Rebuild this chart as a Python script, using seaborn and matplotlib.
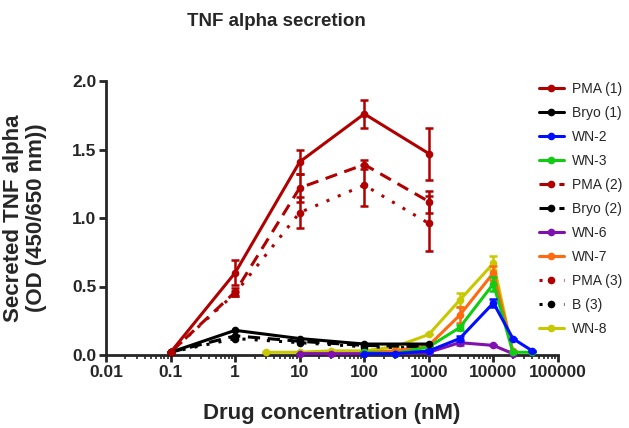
import numpy as np
import pandas as pd
import matplotlib
matplotlib.use('Agg')
import matplotlib.pyplot as plt
from matplotlib.ticker import LogLocator, NullFormatter
import seaborn as sns

sns.set_style('ticks')
plt.rcParams['font.family'] = ['Liberation Sans', 'DejaVu Sans']

# PMA / Bryo dose series
x_low = [0.1, 1, 10, 100, 1000]
pma1 = [0.02, 0.60, 1.41, 1.76, 1.47]
pma1_err = [0, 0.09, 0.09, 0.10, 0.19]
pma2 = [0.02, 0.46, 1.22, 1.39, 1.12]
pma2_err = [0, 0.03, 0.10, 0.03, 0.08]
pma3 = [0.02, 0.45, 1.04, 1.24, 0.96]
pma3_err = [0, 0.02, 0.11, 0.15, 0.20]
bryo1 = [0.02, 0.18, 0.12, 0.08, 0.08]
bryo2 = [0.02, 0.14, 0.10, 0.07, 0.06]
b3 = [0.02, 0.12, 0.09, 0.06, 0.05]

# WN compounds
x_wn2 = [100, 300, 1000, 3000, 10000, 20000, 40000]
wn2 = [0.01, 0.01, 0.03, 0.12, 0.38, 0.12, 0.03]
wn2_err = [0, 0, 0, 0.02, 0.03, 0, 0]
x_wn3 = [100, 300, 1000, 3000, 10000, 20000, 40000]
wn3 = [0.02, 0.01, 0.06, 0.20, 0.52, 0.02, 0.02]
wn3_err = [0, 0, 0, 0.02, 0.05, 0, 0]
x_wn6 = [10, 30, 100, 300, 1000, 3000, 10000, 20000]
wn6 = [0.01, 0.01, 0.01, 0.01, 0.02, 0.09, 0.07, 0.01]
wn6_err = [0, 0, 0, 0, 0, 0.02, 0, 0]
x_wn7 = [100, 300, 1000, 3000, 10000, 20000]
wn7 = [0.02, 0.03, 0.07, 0.29, 0.60, 0.03]
wn7_err = [0, 0, 0, 0.06, 0.05, 0]
x_wn8 = [3, 10, 30, 100, 300, 1000, 3000, 10000, 20000]
wn8 = [0.02, 0.02, 0.03, 0.03, 0.06, 0.15, 0.40, 0.67, 0.02]
wn8_err = [0, 0, 0, 0, 0, 0, 0.05, 0.05, 0]

labels = ['PMA (1)', 'Bryo (1)', 'WN-2', 'WN-3', 'PMA (2)', 'Bryo (2)',
          'WN-6', 'WN-7', 'PMA (3)', 'B (3)', 'WN-8']

red = '#B00000'
series = [
    ('PMA (1)', x_low, pma1, pma1_err, red, '-'),
    ('Bryo (1)', x_low, bryo1, None, 'black', '-'),
    ('WN-2', x_wn2, wn2, wn2_err, '#0010FF', '-'),
    ('WN-3', x_wn3, wn3, wn3_err, '#11CC11', '-'),
    ('PMA (2)', x_low, pma2, pma2_err, red, (0, (4, 2.5))),
    ('Bryo (2)', x_low, bryo2, None, 'black', (0, (4, 2.5))),
    ('WN-6', x_wn6, wn6, wn6_err, '#8010B0', '-'),
    ('WN-7', x_wn7, wn7, wn7_err, '#FF6A10', '-'),
    ('PMA (3)', x_low, pma3, pma3_err, red, (0, (1, 3))),
    ('B (3)', x_low, b3, None, 'black', (0, (1, 3))),
    ('WN-8', x_wn8, wn8, wn8_err, '#C8C800', '-'),
]

fig = plt.figure(figsize=(6.29, 4.28), dpi=100)
ax = fig.add_axes([106 / 629, 1 - 355 / 428, (558 - 106) / 629, (355 - 81) / 428])

# draw in reverse so PMA (1) sits on top
for name, xs, ys, err, col, ls in series[::-1]:
    df = pd.DataFrame({'x': xs, 'y': ys})
    sns.lineplot(data=df, x='x', y='y', ax=ax, color=col, linestyle=ls,
                 linewidth=2.2, marker='o', markersize=5.5, markeredgewidth=0,
                 label=name, legend=False, clip_on=False, zorder=3)
    if err is not None:
        ax.errorbar(xs, ys, yerr=err, fmt='none', ecolor=col, elinewidth=1.8,
                    capsize=3, capthick=1.8, zorder=3)

ax.set_xscale('log')
ax.set_xlim(0.01, 100000)
ax.set_ylim(0, 2.0)
ax.set_yticks([0, 0.5, 1.0, 1.5, 2.0])
ax.set_yticklabels(['0.0', '0.5', '1.0', '1.5', '2.0'])
ax.set_xticks([0.01, 0.1, 1, 10, 100, 1000, 10000, 100000])
ax.set_xticklabels(['0.01', '0.1', '1', '10', '100', '1000', '10000', '100000'])
ax.xaxis.set_minor_locator(LogLocator(base=10, subs=np.arange(2, 10), numticks=20))
ax.xaxis.set_minor_formatter(NullFormatter())

for s in ['top', 'right']:
    ax.spines[s].set_visible(False)
for s in ['left', 'bottom']:
    ax.spines[s].set_linewidth(2)
ax.tick_params(axis='both', which='major', width=2, length=5, labelsize=12.5, pad=2)
ax.tick_params(axis='x', which='minor', width=1.2, length=3)
for t in ax.get_xticklabels() + ax.get_yticklabels():
    t.set_fontweight('bold')

ax.set_xlabel('Drug concentration (nM)', fontsize=16, fontweight='bold', labelpad=17)
ax.set_ylabel('Secreted TNF alpha\n(OD (450/650 nm))', fontsize=16, fontweight='bold',
              labelpad=18, linespacing=1.1)
fig.text(276 / 629, 1 - 22 / 428, 'TNF alpha secretion', ha='center', va='center',
         fontsize=13.5, fontweight='bold')

h, l = ax.get_legend_handles_labels()
order = [l.index(n) for n in labels]
ax.legend([h[i] for i in order], labels, loc='upper left',
          bbox_to_anchor=(533 / 629, 1 - 76 / 428), bbox_transform=fig.transFigure,
          frameon=False, fontsize=10, handlelength=1.8, handletextpad=0.6,
          labelspacing=0.72, borderaxespad=0)

fig.savefig('out.png', dpi=100)
